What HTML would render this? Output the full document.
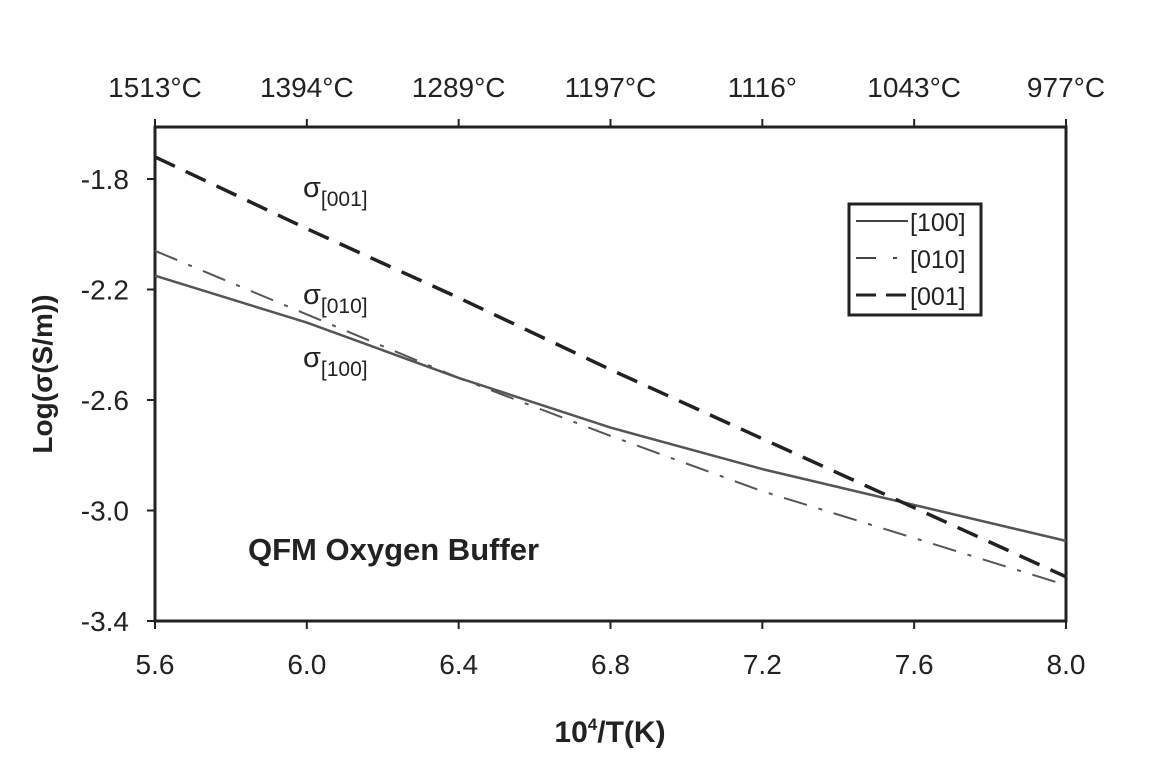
<!DOCTYPE html>
<html><head><meta charset="utf-8"><style>
body{margin:0;background:#fff;}
svg text{font-family:"Liberation Sans",sans-serif;fill:#222;}
</style></head><body>
<svg width="1168" height="774" viewBox="0 0 1168 774">
<g id="axes"></g>
<g id="series"></g>
<rect x="849" y="204" width="132" height="111" fill="#fff" stroke="#222" stroke-width="3"/>
<g>
<line x1="856" y1="221" x2="908" y2="221" stroke="#444" stroke-width="2"/>
<text x="910" y="231" font-size="25">[100]</text>
<line x1="856" y1="258" x2="876" y2="258" stroke="#444" stroke-width="2"/>
<line x1="893" y1="258" x2="897" y2="258" stroke="#444" stroke-width="2"/>
<text x="910" y="268" font-size="25">[010]</text>
<line x1="856" y1="295" x2="908" y2="295" stroke="#222" stroke-width="3" stroke-dasharray="20,10"/>
<text x="910" y="305" font-size="25">[001]</text>
</g>
<text x="303" y="197" font-size="29">σ<tspan font-size="21" dy="9">[001]</tspan></text>
<text x="303" y="304" font-size="29">σ<tspan font-size="21" dy="9">[010]</tspan></text>
<text x="303" y="367" font-size="29">σ<tspan font-size="21" dy="9">[100]</tspan></text>
<text x="248" y="560" font-size="31" font-weight="bold">QFM Oxygen Buffer</text>
<text x="610" y="742" font-size="30" font-weight="bold" text-anchor="middle">10<tspan font-size="17" dy="-12">4</tspan><tspan dy="12">/T(K)</tspan></text>
<text transform="translate(52,374) rotate(-90)" font-size="28" font-weight="bold" text-anchor="middle">Log(σ(S/m))</text>
</svg>
<script>
const xTicks=[5.6,6.0,6.4,6.8,7.2,7.6,8.0];
const xTickLabels=["5.6","6.0","6.4","6.8","7.2","7.6","8.0"];
const yTicks=[-1.8,-2.2,-2.6,-3.0,-3.4];
const yTickLabels=["-1.8","-2.2","-2.6","-3.0","-3.4"];
const topTickLabels=["1513°C","1394°C","1289°C","1197°C","1116°","1043°C","977°C"];
const xs=[5.6,6.0,6.4,6.8,7.2,7.6,8.0];
const s100=[-2.15,-2.32,-2.52,-2.70,-2.85,-2.98,-3.11];
const s010=[-2.06,-2.29,-2.52,-2.73,-2.93,-3.10,-3.27];
const s001=[-1.72,-1.98,-2.23,-2.49,-2.74,-2.99,-3.24];
const X0=155,X1=1066,Y0=127,Y1=621;
const sx=v=>X0+(v-5.6)/(2.4)*(X1-X0);
const sy=v=>Y1-(v+3.4)*276.25;
const NS="http://www.w3.org/2000/svg";
const ax=document.getElementById('axes'),se=document.getElementById('series');
function mk(t,a,p){const e=document.createElementNS(NS,t);for(const k in a)e.setAttribute(k,a[k]);p.appendChild(e);return e;}
const fr=mk('rect',{x:X0,y:Y0,width:X1-X0,height:Y1-Y0,fill:'none',stroke:'#222','stroke-width':3},ax);


xTicks.forEach((v,i)=>{
 const x=sx(v);
 mk('line',{x1:x,y1:Y1,x2:x,y2:Y1+8,stroke:'#222','stroke-width':2},ax);
 mk('line',{x1:x,y1:Y0,x2:x,y2:Y0-8,stroke:'#222','stroke-width':2},ax);
 const t=mk('text',{x:x,y:674,'font-size':28,'text-anchor':'middle'},ax);t.textContent=xTickLabels[i];
 
 
 const u=mk('text',{x:x,y:97,'font-size':28,'text-anchor':'middle'},ax);u.textContent=topTickLabels[i];
 
 
});
yTicks.forEach((v,i)=>{
 const y=sy(v);
 mk('line',{x1:X0-8,y1:y,x2:X0,y2:y,stroke:'#222','stroke-width':2},ax);
 const t=mk('text',{x:129,y:y+10,'font-size':28,'text-anchor':'end'},ax);t.textContent=yTickLabels[i];
 
 
});
function line(vals,attrs,name){
 const d=vals.map((v,i)=>(i?'L':'M')+sx(xs[i]).toFixed(1)+','+sy(v).toFixed(1)).join('');
 const p=mk('path',Object.assign({d:d,fill:'none'},attrs),se);
 
 
}
line(s100,{stroke:'#555','stroke-width':2.5},'series-100');
line(s010,{stroke:'#555','stroke-width':2,'stroke-dasharray':'24,12,4,12'},'series-010');
line(s001,{stroke:'#222','stroke-width':3.5,'stroke-dasharray':'22,12'},'series-001');
</script>
</body></html>
